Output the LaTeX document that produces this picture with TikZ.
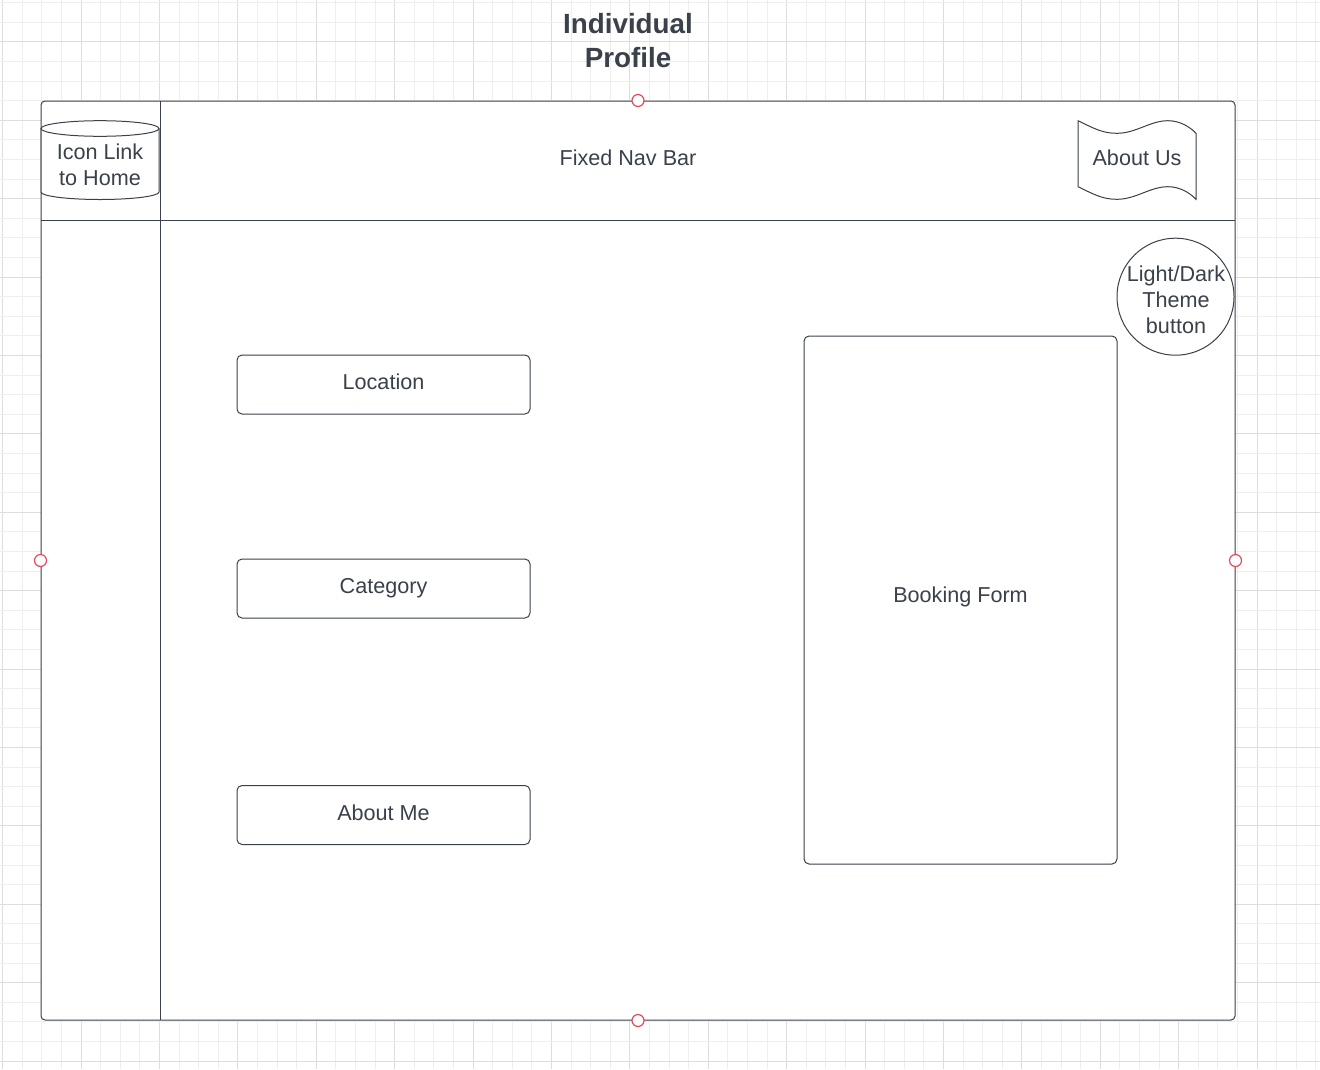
\documentclass[tikz,border=0pt]{standalone}
\usepackage{fontspec}
\setmainfont{Liberation Sans}
\definecolor{ink}{HTML}{3A414A}
\definecolor{gridminor}{HTML}{EEEEEE}
\definecolor{gridmajor}{HTML}{DDDDDD}
\definecolor{handle}{HTML}{E5495B}
\tikzset{
  shapeline/.style={draw=ink, line width=1pt},
  txt/.style={text=ink, font=\fontsize{21.6}{26}\selectfont, align=center, inner sep=0pt},
  btn/.style={shapeline, rounded corners=5pt, fill=white, text=ink, font=\fontsize{21.6}{26}\selectfont, inner sep=0pt},
  handlemark/.style={circle, draw=handle, fill=white, line width=1.2pt, minimum size=12pt, inner sep=0pt},
}
\begin{document}
\begin{tikzpicture}[x=1pt,y=-1pt]
\useasboundingbox (0,0) rectangle (1320,1069);
\fill[white] (0,0) rectangle (1320,1069);
% grid
\foreach \i in {0,...,67}{
  \pgfmathsetmacro{\gx}{2.7+19.6*\i}
  \pgfmathtruncatemacro{\m}{mod(\i,4)}
  \ifnum\m=0
    \draw[gridmajor, line width=1pt] (\gx,0) -- (\gx,1069);
  \else
    \draw[gridminor, line width=1pt] (\gx,0) -- (\gx,1069);
  \fi
}
\foreach \j in {0,...,54}{
  \pgfmathsetmacro{\gy}{2.7+19.6*\j}
  \pgfmathtruncatemacro{\m}{mod(\j,4)}
  \ifnum\m=2
    \draw[gridmajor, line width=1pt] (0,\gy) -- (1320,\gy);
  \else
    \draw[gridminor, line width=1pt] (0,\gy) -- (1320,\gy);
  \fi
}
% title
\node[text=ink, font=\bfseries\fontsize{27.8}{34}\selectfont, align=center, inner sep=0pt] (title) at (628,40.5) {Individual\\Profile};
% page frame
\node[shapeline, fill=white, rounded corners=4pt, minimum width=1194pt, minimum height=919pt, inner sep=0pt] (frame) at (638,560.5) {};
\draw[shapeline] (160,101) -- (160,1020);
\draw[shapeline] (41,220) -- (1235,220);
% cylinder icon
\draw[shapeline, fill=white] (41,128.5) -- (41,192) arc[start angle=180, end angle=360, x radius=59pt, y radius=7.5pt] -- (159,128.5);
\draw[shapeline, fill=white] (100,128.5) ellipse[x radius=59pt, y radius=7.8pt];
\node[txt] (home) at (100,165) {Icon Link\\to Home};
% nav label
\node[txt] (nav) at (628,158) {Fixed Nav Bar};
% about us tape
\draw[shapeline, fill=white] (1078,120.7) .. controls (1095,129) and (1103,133.3) .. (1117,133.3)
  .. controls (1136,133.3) and (1150,120.7) .. (1168,120.7)
  .. controls (1180,120.7) and (1190,127) .. (1196,133.3)
  -- (1196,199.3)
  .. controls (1190,193) and (1180,186.7) .. (1168,186.7)
  .. controls (1150,186.7) and (1136,199.3) .. (1117,199.3)
  .. controls (1103,199.3) and (1095,195) .. (1078,186.7) -- cycle;
\node[txt] (about) at (1137,158) {About Us};
% theme button
\node[circle, shapeline, fill=white, minimum size=117pt, inner sep=0pt] (theme) at (1175.5,296.7) {};
\node[txt] (themetxt) at (1176,299.5) {Light/Dark\\Theme\\button};
% buttons
\node[btn, minimum width=293pt, minimum height=59pt, text height=15pt, text depth=4.7pt] (loc) at (383.5,384.5) {Location};
\node[btn, minimum width=293pt, minimum height=59pt, text height=15pt, text depth=4.7pt] (cat) at (383.5,588.5) {Category};
\node[btn, minimum width=293pt, minimum height=59pt, text height=15pt, text depth=4.7pt] (me) at (383.5,815) {About Me};
% booking form
\node[btn, minimum width=313pt, minimum height=528pt, text height=15pt, text depth=9.7pt] (book) at (960.5,600) {Booking Form};
% selection handles
\node[handlemark] (hn) at (frame.north) {};
\node[handlemark] (hs) at (frame.south) {};
\node[handlemark] (hw) at (frame.west) {};
\node[handlemark] (he) at (frame.east) {};
\end{tikzpicture}
\end{document}
